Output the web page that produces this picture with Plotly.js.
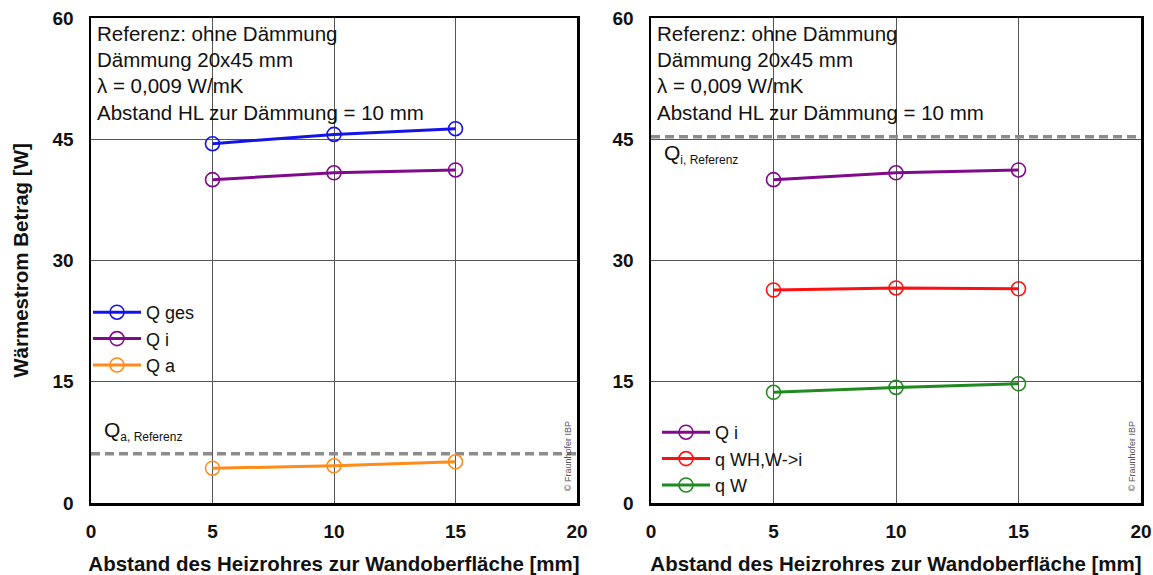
<!DOCTYPE html>
<html>
<head>
<meta charset="utf-8">
<script src="https://cdn.plot.ly/plotly-3.0.1.min.js"></script>
<style>html,body{margin:0;padding:0;background:#fff;}#chart{width:1153px;height:575px;}</style>
</head>
<body>
<div id="chart"></div>
<script>
// ---- data ----
const distance = [5, 10, 15];               // Abstand des Heizrohres [mm]
const xSpan = [0, 20];                       // extent of reference lines
const QgesLeft = [44.45, 45.6, 46.3];
const QiLeft = [40.0, 40.85, 41.2];
const QaLeft = [4.3, 4.6, 5.1];
const QaRef = 6.1;
const QiRight = [40.0, 40.85, 41.2];
const qWHRight = [26.35, 26.6, 26.5];
const qWRight = [13.7, 14.3, 14.75];
const QiRef = 45.3;
const xTicks = [0, 5, 10, 15, 20];
const yTicks = [0, 15, 30, 45, 60];
const infoLines = ["Referenz: ohne Dämmung", "Dämmung 20x45 mm", "λ = 0,009 W/mK", "Abstand HL zur Dämmung = 10 mm"];

const FONT = "Liberation Sans, Arial, Helvetica, sans-serif";
const C = {blue: "#1414e6", purple: "#800a8c", orange: "#ff8c19", red: "#ff1010", green: "#1f8a1f"};

function series(x, y, name, color, xa, ya, legend) {
  return {
    x: x, y: y, name: name, type: "scatter", mode: "lines+markers",
    xaxis: xa, yaxis: ya, legend: legend,
    line: {color: color, width: 3},
    marker: {symbol: "circle-open", size: 14, color: color, line: {width: 1.6, color: color}}
  };
}
function refLine(value, xa, ya) {
  return {
    x: xSpan, y: [value, value], type: "scatter", mode: "lines", showlegend: false,
    xaxis: xa, yaxis: ya, hoverinfo: "skip",
    line: {color: "#8c8c8c", width: 3.5, dash: "9px,5px"}
  };
}

const traces = [
  refLine(QaRef, "x", "y"),
  series(distance, QgesLeft, "Q ges", C.blue, "x", "y", "legend"),
  series(distance, QiLeft, "Q i", C.purple, "x", "y", "legend"),
  series(distance, QaLeft, "Q a", C.orange, "x", "y", "legend"),
  refLine(QiRef, "x2", "y2"),
  series(distance, QiRight, "Q i", C.purple, "x2", "y2", "legend2"),
  series(distance, qWHRight, "q WH,W-&gt;i", C.red, "x2", "y2", "legend2"),
  series(distance, qWRight, "q W", C.green, "x2", "y2", "legend2")
];

const tickFont = {family: FONT, size: 19, color: "#111", weight: "bold"};
const titleFont = {family: FONT, size: 20.5, color: "#111", weight: "bold"};
function xAxis(domain, anchor) {
  return {
    domain: domain, anchor: anchor, range: xSpan, tickvals: xTicks, ticktext: xTicks.map(String),
    showgrid: true, gridcolor: "#555", gridwidth: 1, zeroline: false,
    showline: true, mirror: true, linecolor: "#000", linewidth: 2.5,
    ticks: "", ticklabelstandoff: 10, tickfont: tickFont,
    title: {text: "Abstand des Heizrohres zur Wandoberfläche [mm]", font: titleFont, standoff: 16},
    automargin: false, fixedrange: true
  };
}
function yAxis(domain, anchor, withTitle) {
  const ax = {
    domain: domain, anchor: anchor, range: [0, 60], tickvals: yTicks, ticktext: yTicks.map(String),
    showgrid: true, gridcolor: "#555", gridwidth: 1, zeroline: false,
    showline: true, mirror: true, linecolor: "#000", linewidth: 2.5,
    ticks: "", ticklabelstandoff: 11, tickfont: tickFont,
    automargin: false, fixedrange: true
  };
  if (withTitle) ax.title = {text: "Wärmestrom Betrag [W]", font: titleFont, standoff: 19};
  return ax;
}

const yDom = [72 / 575, 557 / 575];
const annotations = [];
const lineY = [0.969, 0.914, 0.860, 0.805];
["x", "x2"].forEach((xa, k) => {
  const ya = k === 0 ? "y" : "y2";
  infoLines.forEach((t, i) => {
    annotations.push({
      text: t, xref: xa + " domain", yref: ya + " domain", x: 0.008, y: lineY[i],
      xanchor: "left", yanchor: "middle", showarrow: false,
      font: {family: FONT, size: 20.5, color: "#111"}
    });
  });
  annotations.push({
    text: "© Fraunhofer IBP", xref: xa + " domain", yref: ya + " domain",
    x: 0.982, y: 0.097, xanchor: "center", yanchor: "middle", textangle: -90, showarrow: false,
    font: {family: FONT, size: 9, color: "#555"}
  });
});
annotations.push({
  text: "Q<sub><span style='font-size:12px'>a, Referenz</span></sub>", xref: "x domain", yref: "y domain", x: 0.022, y: 0.148,
  xanchor: "left", yanchor: "middle", showarrow: false, font: {family: FONT, size: 21, color: "#111"}
});
annotations.push({
  text: "Q<sub><span style='font-size:12px'>i, Referenz</span></sub>", xref: "x2 domain", yref: "y2 domain", x: 0.022, y: 0.72,
  xanchor: "left", yanchor: "middle", showarrow: false, font: {family: FONT, size: 21, color: "#111"}
});

const legendCommon = {
  font: {family: FONT, size: 18, color: "#111"}, bgcolor: "rgba(0,0,0,0)", borderwidth: 0,
  xanchor: "left", yanchor: "top", tracegroupgap: 0, itemwidth: 48
};

const layout = {
  width: 1153, height: 575,
  margin: {l: 0, r: 0, t: 0, b: 0},
  paper_bgcolor: "#fff", plot_bgcolor: "#fff",
  font: {family: FONT, color: "#111"},
  xaxis: xAxis([91 / 1153, 577 / 1153], "y"),
  yaxis: yAxis(yDom, "x", true),
  xaxis2: xAxis([651 / 1153, 1141 / 1153], "y2"),
  yaxis2: yAxis(yDom, "x2", false),
  legend: Object.assign({}, legendCommon, {x: 88 / 1153, y: (575 - 294) / 575}),
  legend2: Object.assign({}, legendCommon, {x: 657 / 1153, y: (575 - 414) / 575}),
  annotations: annotations,
  showlegend: true
};

Plotly.newPlot("chart", traces, layout, {displayModeBar: false, staticPlot: true});
</script>
</body>
</html>
